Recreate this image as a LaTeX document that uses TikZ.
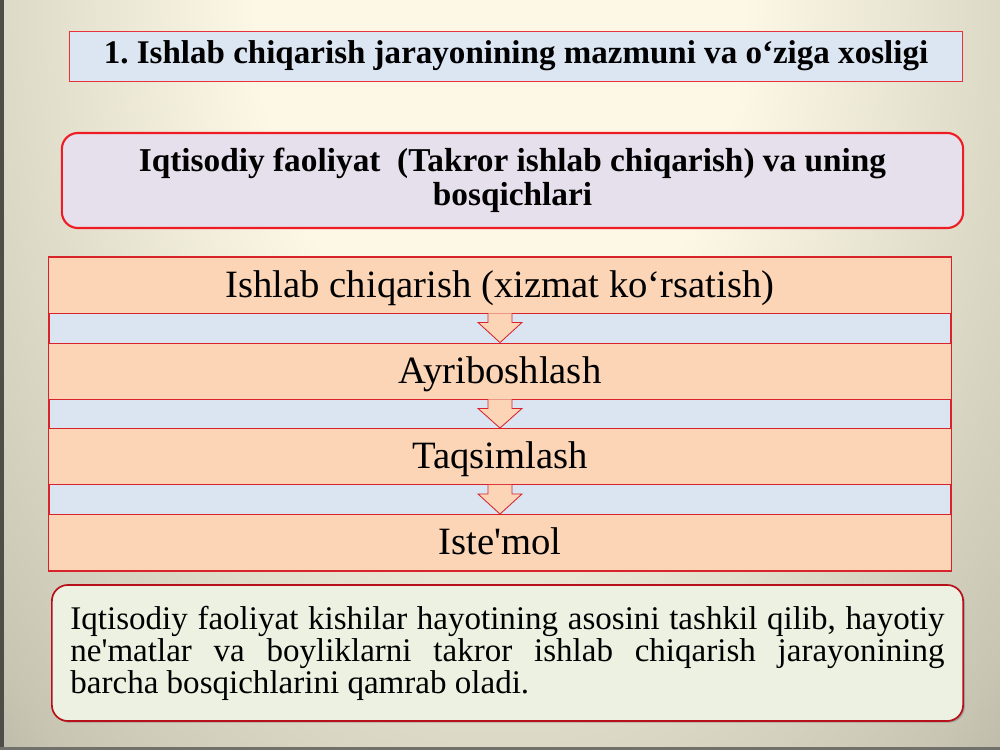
\documentclass[tikz,border=0pt]{standalone}
\usepackage{fontspec}
\setmainfont{Liberation Serif}[Ligatures=TeXOff]
\usetikzlibrary{calc,shadows}
\definecolor{bgin}{HTML}{FDF8E6}
\definecolor{bgmid}{HTML}{C8C5B3}
\definecolor{bgout}{HTML}{8A887C}
\definecolor{edgegray}{HTML}{4E4D47}
\definecolor{titlefill}{HTML}{DCE6F2}
\definecolor{titlered}{HTML}{E8323A}
\definecolor{brightred}{HTML}{EE1C24}
\definecolor{phasefill}{HTML}{E6E0EC}
\definecolor{stagefill}{HTML}{FBD5B6}
\definecolor{stagered}{HTML}{D8222C}
\definecolor{bandblue}{HTML}{DBE5F1}
\definecolor{notefill}{HTML}{EDF1E2}
\definecolor{notered}{HTML}{B8101A}
\pgfdeclareradialshading{slidebg}{\pgfpoint{0bp}{0bp}}{color(0bp)=(bgin); color(8bp)=(bgin); color(22bp)=(bgmid); color(32bp)=(bgout); color(50bp)=(bgout)}
\frenchspacing

\begin{document}
\begin{tikzpicture}[x=0.025cm,y=-0.025cm]
\tikzstyle{stage}=[draw=stagered, line width=0.6pt, fill=stagefill, minimum width=22.55cm, minimum height=1.4cm, inner sep=0pt, text height=22.5pt, text depth=5pt, font=\fontsize{27.5}{30}\selectfont]
\tikzstyle{stagearrow}=[draw=stagered, line width=0.6pt, fill=stagefill]
    \useasboundingbox (0,0) rectangle (1000,750);
    % slide background
    \begin{scope}
    \clip (0,0) rectangle (1000,750);
    \shade[shading=slidebg] (500,0) ellipse [x radius=19cm, y radius=28cm];
    \fill[edgegray] (0,0) rectangle (4,750);
    \fill[edgegray!80] (0,747) rectangle (1000,750);
    \end{scope}
    % headings
    \node[draw=titlered, line width=0.6pt, fill=titlefill, minimum width=22.3cm, minimum height=1.25cm, inner sep=0pt, font=\bfseries\fontsize{23.5}{26}\selectfont] (title) at (516,56) {1. Ishlab chiqarish jarayonining mazmuni va o‘ziga xosligi};
    \node[draw=brightred, line width=1.5pt, fill=phasefill, rounded corners=0.4cm, minimum width=22.525cm, minimum height=2.375cm, align=center, font=\bfseries\fontsize{23.7}{24.5}\selectfont] (phases) at (512.5,180.5) {Iqtisodiy faoliyat\ \ (Takror ishlab chiqarish) va uning\\bosqichlari};
    % stages
    \draw[draw=stagered, line width=1.2pt, fill=bandblue] (49,257) rectangle (951,571);
    \node[stage] (ishlab) at (500,285) {Ishlab chiqarish (xizmat ko‘rsatish)};
    \node[stage] (ayirbosh) at (500,371) {Ayriboshlash};
    \node[stage] (taqsim) at (500,456.5) {Taqsimlash};
    \node[stage] (istemol) at (500,542.5) {Iste'mol};
    \draw[stagearrow] ($(ishlab.south)+(-12,0)$) -- ++(0,9) -- ++(-10,0) -- (ayirbosh.north) -- ($(ishlab.south)+(22,9)$) -- ++(-10,0) -- ++(0,-9);
    \draw[stagearrow] ($(ayirbosh.south)+(-12,0)$) -- ++(0,9) -- ++(-10,0) -- (taqsim.north) -- ($(ayirbosh.south)+(22,9)$) -- ++(-10,0) -- ++(0,-9);
    \draw[stagearrow] ($(taqsim.south)+(-12,0)$) -- ++(0,9) -- ++(-10,0) -- (istemol.north) -- ($(taqsim.south)+(22,9)$) -- ++(-10,0) -- ++(0,-9);
    % note
    \node[draw=notered, line width=1.2pt, fill=notefill, rounded corners=0.4cm, drop shadow={shadow xshift=1.2pt, shadow yshift=-1.2pt, opacity=0.55}, minimum width=22.775cm, minimum height=3.4cm, text width=21.85cm, align=justify, font=\fontsize{23.5}{22.8}\selectfont] (note) at (507.5,653) {Iqtisodiy faoliyat kishilar hayotining asosini tashkil qilib, hayotiy\linebreak ne'matlar va boyliklarni takror ishlab chiqarish jarayonining\linebreak barcha bosqichlarini qamrab oladi.};
\end{tikzpicture}
\end{document}
